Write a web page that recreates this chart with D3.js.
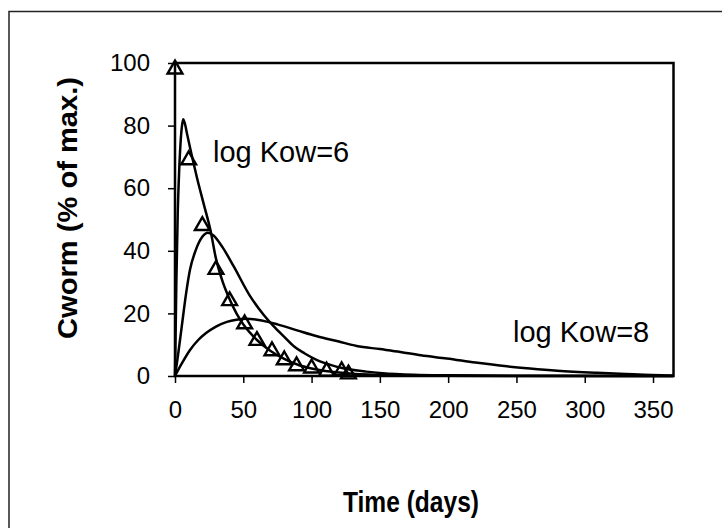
<!DOCTYPE html>
<html lang="en">
  <head>
    <meta charset="utf-8" />
    <title>Cworm vs time</title>
    <script type="text/javascript" src="https://d3js.org/d3.v7.min.js"></script>
    <style>
      body { margin: 0; background: #fff; }
      svg { display: block; font-family: "Liberation Sans", Arial, sans-serif; }
    </style>
  </head>
  <body>
    <div id="chart"></div>

    <script type="text/javascript">
      /********************************
       * data
       ********************************/

      // measured points (triangles)
      const obsDays = [0, 10, 20, 30, 40, 51, 60, 71, 80, 89, 100, 111, 122, 127];
      const obsValues = [98, 69, 48, 34, 24, 16.6, 11.3, 8, 5.1, 3.2, 2.5, 1.5, 1.6, 0.6];

      // model curve, log Kow=6
      const kow6Days = [0, 1, 2, 3, 4, 5, 6, 7, 9, 12, 16, 21, 26, 30, 35, 40, 45, 50, 60, 70, 80, 90, 100, 110, 120, 130, 145, 160, 200, 365];
      const kow6Values = [0, 30, 52, 65, 74, 79.5, 82, 81, 77, 71, 63.5, 55, 46.5, 37.5, 30, 24.5, 20, 16.5, 11.5, 8, 5.5, 3.6, 2.4, 1.6, 1.1, 0.7, 0.4, 0.2, 0.05, 0];

      // model curve, log Kow=7
      const kow7Days = [0, 2, 5, 8, 11, 15, 20, 24, 28, 35, 43, 55, 65, 72, 80, 87, 95, 104, 115, 124, 140, 152, 175, 200, 250, 365];
      const kow7Values = [0, 6, 16, 26, 34, 40, 44.5, 45.8, 45, 41, 35, 25.5, 19.5, 16, 12.5, 9.5, 7.2, 5.1, 3.4, 2.4, 1.4, 0.9, 0.4, 0.2, 0.05, 0];

      // model curve, log Kow=8
      const kow8Days = [0, 5, 11, 17, 23, 30, 38, 45, 52, 60, 68, 75, 90, 104, 120, 133, 150, 165, 180, 199, 220, 243, 260, 280, 309, 330, 360, 365];
      const kow8Values = [0, 4, 8.3, 11.5, 13.8, 15.8, 17.3, 18, 18.3, 18, 17.3, 16.5, 14.5, 12.7, 11, 9.6, 8.6, 7.7, 6.6, 5.6, 4.3, 3.1, 2.4, 1.7, 1.0, 0.6, 0.2, 0.1];

      const xTicks = [0, 50, 100, 150, 200, 250, 300, 350];
      const yTicks = [0, 20, 40, 60, 80, 100];

      /***************************
       * svg
       **************************/

      const width = 722;
      const height = 528;
      const plot = { left: 175, right: 673.5, top: 63, bottom: 376 };

      const svg = d3
        .select("div#chart")
        .append("svg")
        .attr("width", width)
        .attr("height", height);

      // outer frame (runs off the right and bottom edge)
      svg
        .append("rect")
        .attr("x", 9)
        .attr("y", 11.5)
        .attr("width", 740)
        .attr("height", 560)
        .style("fill", "none")
        .style("stroke", "#222")
        .style("stroke-width", 1.5);

      /************************
       * scales + axes
       ***********************/

      const x = d3.scaleLinear().domain([0, 365]).range([plot.left, plot.right]);
      const y = d3.scaleLinear().domain([0, 100]).range([plot.bottom, plot.top]);

      const xAxis = svg
        .append("g")
        .attr("transform", `translate(0,${plot.bottom})`)
        .call(d3.axisBottom(x).tickValues(xTicks).tickSize(7).tickPadding(18).tickSizeOuter(0));

      const yAxis = svg
        .append("g")
        .attr("transform", `translate(${plot.left},0)`)
        .call(d3.axisLeft(y).tickValues(yTicks).tickSize(7).tickPadding(18).tickSizeOuter(0));

      [xAxis, yAxis].forEach((g) => {
        g.select(".domain").remove();
        g.selectAll(".tick line").style("stroke", "#000").style("stroke-width", 1.5);
        g.selectAll(".tick text")
          .style("font-family", '"Liberation Sans", Arial, sans-serif')
          .style("font-size", "24px")
          .style("fill", "#000");
      });

      // plot border
      svg
        .append("rect")
        .attr("x", plot.left)
        .attr("y", plot.top)
        .attr("width", plot.right - plot.left)
        .attr("height", plot.bottom - plot.top)
        .style("fill", "none")
        .style("stroke", "#000")
        .style("stroke-width", 2.5);

      /*******************
       * curves
       *********************/

      const line = d3
        .line()
        .x((d) => x(d[0]))
        .y((d) => y(d[1]))
        .curve(d3.curveMonotoneX);

      const curves = [
        d3.zip(kow6Days, kow6Values),
        d3.zip(kow7Days, kow7Values),
        d3.zip(kow8Days, kow8Values),
      ];

      svg
        .selectAll("path.curve")
        .data(curves)
        .enter()
        .append("path")
        .attr("class", "curve")
        .attr("d", line)
        .style("fill", "none")
        .style("stroke", "#000")
        .style("stroke-width", 2.5);

      /*******************
       * triangles
       *********************/

      svg
        .selectAll("path.obs")
        .data(d3.zip(obsDays, obsValues))
        .enter()
        .append("path")
        .attr("class", "obs")
        .attr("d", d3.symbol(d3.symbolTriangle).size(95))
        .attr("transform", (d) => `translate(${x(d[0])},${y(d[1])})`)
        .style("fill", "none")
        .style("stroke", "#000")
        .style("stroke-width", 2.4);

      /*******************
       * labels
       *********************/

      svg
        .append("text")
        .attr("x", 213)
        .attr("y", 162)
        .style("font-size", "29px")
        .text("log Kow=6");

      svg
        .append("text")
        .attr("x", 513)
        .attr("y", 342)
        .style("font-size", "29px")
        .text("log Kow=8");

      svg
        .append("text")
        .attr("x", 411)
        .attr("y", 512)
        .attr("text-anchor", "middle")
        .attr("textLength", 136)
        .attr("lengthAdjust", "spacingAndGlyphs")
        .style("font-size", "29px")
        .style("font-weight", "bold")
        .text("Time (days)");

      svg
        .append("text")
        .attr("transform", "translate(77,208) rotate(-90)")
        .attr("text-anchor", "middle")
        .attr("textLength", 262)
        .attr("lengthAdjust", "spacingAndGlyphs")
        .style("font-size", "28px")
        .style("font-weight", "bold")
        .text("Cworm (% of max.)");
    </script>
  </body>
</html>
